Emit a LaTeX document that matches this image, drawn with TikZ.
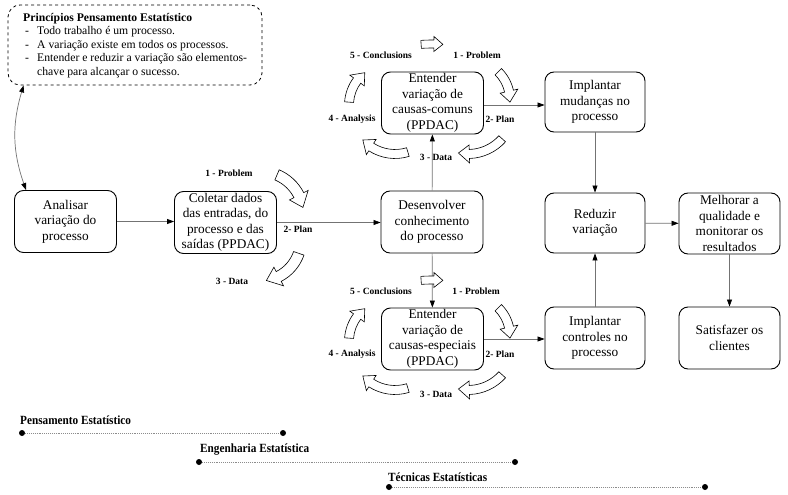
\documentclass[tikz,border=0pt]{standalone}
\usepackage{fontspec}
\setmainfont{Liberation Serif}
\usetikzlibrary{arrows.meta,calc}
% curved hollow block arrow: cx, cy, r, start angle, end angle, half shaft, half head, head length
\newcommand{\blockarc}[8]{%
  \pgfmathsetmacro\bsgn{sign(#5-#4)}%
  \pgfmathsetmacro\bhd{#5-\bsgn*#8/#3*57.2958}%
  \pgfmathsetmacro\bro{#3+#6}\pgfmathsetmacro\bri{#3-#6}%
  \pgfmathsetmacro\bRo{#3+#7}\pgfmathsetmacro\bRi{#3-#7}%
  \draw[blockarrow] ([shift={(#4:\bro)}]#1,#2) arc[start angle=#4, end angle=\bhd, radius=\bro]
    -- ([shift={(\bhd:\bRo)}]#1,#2) -- ([shift={(#5:#3)}]#1,#2) -- ([shift={(\bhd:\bRi)}]#1,#2)
    -- ([shift={(\bhd:\bri)}]#1,#2) arc[start angle=\bhd, end angle=#4, radius=\bri] -- cycle;}
\begin{document}
\begin{tikzpicture}[x=1pt,y=-1pt,
  box/.style={draw, line width=0.9pt, rounded corners=9pt, minimum width=102pt, minimum height=62pt,
    align=center, inner sep=0.5pt, font=\fontsize{13.3}{15.5}\selectfont},
  conn/.style={draw=black!55, line width=0.7pt, -{Triangle[length=7pt,width=5pt,color=black]}},
  blockarrow/.style={draw=black, fill=white, line width=0.6pt},
  lbl/.style={font=\fontsize{9.5}{11}\selectfont\bfseries, inner sep=0},
  tl/.style={font=\fontsize{12.5}{14}\selectfont\bfseries, inner sep=0, anchor=west, xscale=0.9},
  tdot/.style={circle, fill=black, inner sep=0, minimum size=6pt},
  tline/.style={draw=black!45, line width=0.9pt, densely dotted}]
\useasboundingbox (0,0) rectangle (788,495);

% principles box
\node[draw, dashed, line width=0.8pt, rounded corners=12pt, minimum width=254pt, minimum height=80pt, inner sep=0] (pb) at (135,45) {};
\node[anchor=north west, inner sep=0, font=\fontsize{11.7}{13.4}\selectfont] (pt) at (23,12)
 {\begin{tabular}{@{}p{11pt}@{\hspace{3pt}}l@{}}
  \multicolumn{2}{@{}l}{\textbf{Princípios Pensamento Estatístico}}\\
  \,- & Todo trabalho é um processo.\\
  \,- & A variação existe em todos os processos.\\
  \,- & Entender e reduzir a variação são elementos-\\
      & chave para alcançar o sucesso.
 \end{tabular}};

% boxes
\node[box] (an) at (65.5,221.5) {Analisar\\variação do\\processo};
\node[box] (co) at (225.5,222.5) {Coletar dados\\das entradas, do\\processo e das\\saídas (PPDAC)};
\node[box] (de) at (432,222) {Desenvolver\\conhecimento\\do processo};
\node[box] (ec) at (432.5,103) {Entender\\variação de\\causas-comuns\\(PPDAC)};
\node[box] (es) at (432.5,339) {Entender\\variação de\\causas-especiais\\(PPDAC)};
\node[box, minimum width=100pt, minimum height=60pt] (im) at (595,102) {Implantar\\mudanças no\\processo};
\node[box, minimum width=100pt, minimum height=60pt] (rv) at (595,223) {Reduzir\\variação};
\node[box, minimum width=100pt] (ic) at (595,338) {Implantar\\controles no\\processo};
\node[box, minimum width=101pt, minimum height=61pt] (me) at (729.5,223.5) {Melhorar a\\qualidade e\\monitorar os\\resultados};
\node[box, minimum width=101pt] (sa) at (729.5,338) {Satisfazer os\\clientes};

% connectors
\draw[conn] (an.east) -- (an.east -| co.west);
\draw[conn] (co.east) -- (co.east -| de.west);
\draw[conn] (de) -- (ec);
\draw[conn] (de) -- (es);
\draw[conn] ([yshift=-2pt]ec.east) -- ([yshift=-2pt]ec.east -| im.west);
\draw[conn] (es.east) -- (es.east -| ic.west);
\draw[conn] (im) -- (rv);
\draw[conn] (ic) -- (rv);
\draw[conn] (rv) -- (me);
\draw[conn] (me) -- (sa);
\draw[draw=black!55, line width=0.7pt, {Triangle[length=7pt,width=5pt,color=black]}-{Triangle[length=7pt,width=5pt,color=black]}]
  ([xshift=16pt]pb.south west) to[bend right=18] ([xshift=12pt]an.north west);

% PPDAC arrows around Coletar
\blockarc{260}{215}{43.6}{-67}{-10}{5.5}{10.5}{13}
\blockarc{260}{240}{41}{19}{81}{5.5}{10.5}{13}
\node[lbl] (c1) at (229,173) {1 - Problem};
\node[lbl] (c2) at (298,229) {2- Plan};
\node[lbl] (c3) at (232,281) {3 - Data};

% PPDAC cycle around causas-comuns
\blockarc{432}{200}{156}{266}{274}{4}{7.5}{9}
\blockarc{470}{100}{40}{-45}{3}{4.5}{9}{11}
\blockarc{468}{108}{46}{42}{102}{4.5}{9}{11}
\blockarc{395}{110}{44}{73}{137}{4.5}{9}{11}
\blockarc{390}{105}{41}{184}{232}{4.5}{9}{11}
\node[lbl] (a5) at (381,55) {5 - Conclusions};
\node[lbl] (a1) at (477,55) {1 - Problem};
\node[lbl] (a2) at (500,119) {2- Plan};
\node[lbl] (a3) at (436,157) {3 - Data};
\node[lbl] (a4) at (352,119) {4 - Analysis};

% PPDAC cycle around causas-especiais
\blockarc{432}{436}{156}{266}{274}{4}{7.5}{9}
\blockarc{470}{336}{40}{-45}{3}{4.5}{9}{11}
\blockarc{468}{344}{46}{42}{102}{4.5}{9}{11}
\blockarc{395}{346}{44}{73}{137}{4.5}{9}{11}
\blockarc{390}{341}{41}{184}{232}{4.5}{9}{11}
\node[lbl] (b5) at (381,291) {5 - Conclusions};
\node[lbl] (b1) at (476,291) {1 - Problem};
\node[lbl] (b2) at (500,354) {2- Plan};
\node[lbl] (b3) at (436,394) {3 - Data};
\node[lbl] (b4) at (352,354) {4 - Analysis};

% timeline
\node[tl] (t1) at (20,420) {Pensamento Estatístico};
\node[tl] (t2) at (200,450) {Engenharia Estatística};
\node[tl] (t3) at (388,477) {Técnicas Estatísticas};
\node[tdot] (d1a) at (22,433) {};
\node[tdot] (d1b) at (283,433) {};
\node[tdot] (d2a) at (199,462) {};
\node[tdot] (d2b) at (515,462) {};
\node[tdot] (d3a) at (389,487) {};
\node[tdot] (d3b) at (705,487) {};
\draw[tline] (d1a) -- (d1b);
\draw[tline] (d2a) -- (d2b);
\draw[tline] (d3a) -- (d3b);
\end{tikzpicture}
\end{document}
